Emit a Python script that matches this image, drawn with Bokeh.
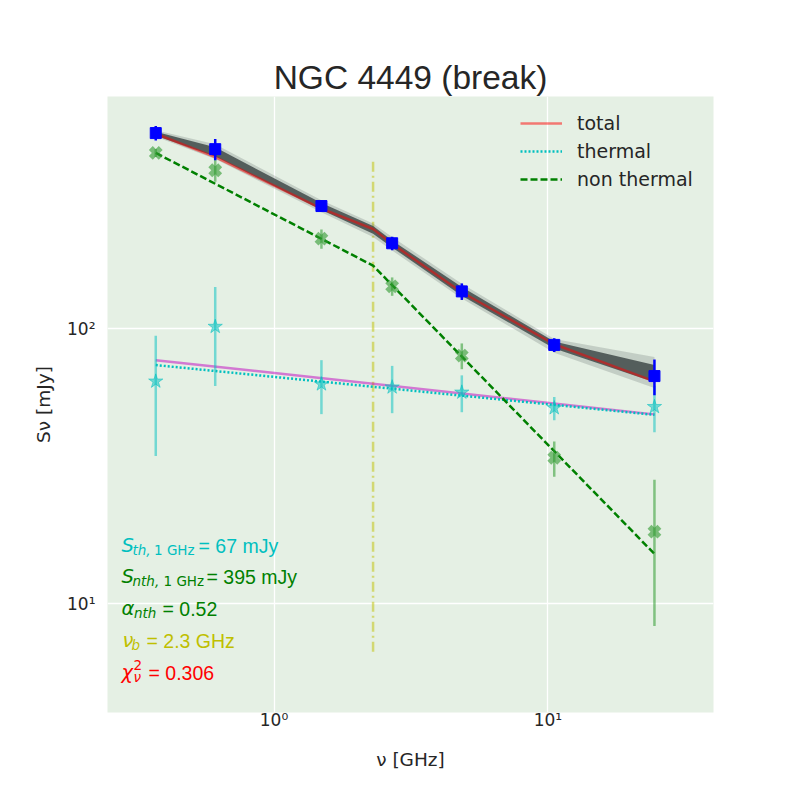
from bokeh.plotting import figure
from bokeh.models import Range1d, FixedTicker, Label, Legend, LegendItem, CustomJSTickFormatter
from bokeh.embed import file_html
from bokeh.resources import INLINE

# ---------------- data ----------------
freq = [0.37, 0.61, 1.49, 2.7, 4.85, 10.55, 24.5]          # GHz
s_total = [516, 451, 280, 205, 137, 87.5, 67.4]            # mJy
e_total = [31, 40, 13, 11.5, 9.5, 5, 10]
s_th = [64.5, 102, 63, 61.4, 58.8, 51.6, 52.1]
e_th = [30, 40, 14, 12, 9, 5, 10]
s_nth = [437, 378, 213, 143, 80, 34, 18.3]
e_nth = [15, 35, 17, 11, 8.6, 5, 10]

model_freq = [0.37, 0.61, 1.49, 2.3, 2.7, 4.85, 10.55, 24.5]
model_total = [513, 422, 274, 231, 204, 136, 88, 64.5]
band_hi = [528, 470, 294, 242, 216, 146, 92, 79]
band_lo = [500, 415, 266, 216, 193, 129, 82, 61]
band_in_hi = [522, 458, 287, 237, 210, 142, 90, 74]
band_in_lo = [505, 424, 271, 222, 198, 132, 85, 64]

th_freq = [0.37, 24.5]
th_model = [73.9, 48.7]
th_model_alt = [77, 48.9]
nth_freq = [0.37, 2.3, 24.5]
nth_model = [437, 170, 15.2]

nu_break = 2.3
break_span = [6.7, 415]

title = "NGC 4449 (break)"
x_label = "ν [GHz]"
y_label = "Sν [mJy]"
legend_labels = ["total", "thermal", "non thermal"]

# ---------------- figure ----------------
FL, FB = 107, 712  # frame left / bottom on page (for screen-unit labels)

p = figure(width=792, height=792, x_axis_type="log", y_axis_type="log",
           x_range=Range1d(0.2466, 40.25), y_range=Range1d(4.025, 701),
           output_backend="svg", toolbar_location=None,
           min_border_left=107, min_border_right=79, min_border_top=96, min_border_bottom=80,
           background_fill_color="#e5f0e4", border_fill_color="white", outline_line_color=None)

p.title.text = title
p.title.align = "center"
p.title.text_font = "Liberation Sans"
p.title.text_font_size = "33.5px"
p.title.text_font_style = "normal"
p.title.text_color = "#262626"
p.title.standoff = 2

sup = CustomJSTickFormatter(code="""
const e = Math.round(Math.log10(tick));
const s = {'-1':'⁻¹','0':'⁰','1':'¹','2':'²','3':'³'};
return '10' + s[String(e)];
""")
p.xaxis.ticker = FixedTicker(ticks=[1, 10])
p.yaxis.ticker = FixedTicker(ticks=[10, 100])
for ax in (p.xaxis, p.yaxis):
    ax.formatter = sup
    ax.axis_line_color = None
    ax.major_tick_line_color = None
    ax.minor_tick_line_color = None
    ax.major_label_text_font = "DejaVu Sans"
    ax.major_label_text_font_size = "17px"
    ax.major_label_text_color = "#262626"
    ax.axis_label_text_font = "DejaVu Sans"
    ax.axis_label_text_font_size = "18.5px"
    ax.axis_label_text_font_style = "normal"
    ax.axis_label_text_color = "#262626"
p.xaxis.major_label_standoff = -9
p.xaxis.axis_label_standoff = 16
p.yaxis.major_label_standoff = 6
p.yaxis.axis_label_standoff = 10
p.xaxis.axis_label = x_label
p.yaxis.axis_label = y_label
p.xgrid.grid_line_color = "white"
p.ygrid.grid_line_color = "white"
p.xgrid.grid_line_width = 1.3
p.ygrid.grid_line_width = 1.3

# break frequency
p.segment(x0=[nu_break], x1=[nu_break], y0=[break_span[0]], y1=[break_span[1]],
          line_color="#bfbf00", line_alpha=0.5, line_width=2.5, line_dash="10 4 2 4")

# MCMC band
p.varea(x=model_freq, y1=band_lo, y2=band_hi, fill_color="#4f5856", fill_alpha=0.22)
p.varea(x=model_freq, y1=band_in_lo, y2=band_in_hi, fill_color="#485250", fill_alpha=0.9)

# models
r_tot = p.line(model_freq, model_total, line_color="red", line_alpha=0.5, line_width=2.5)
p.line(th_freq, th_model_alt, line_color="#bf00bf", line_alpha=0.5, line_width=2.5)
r_th = p.line(th_freq, th_model, line_color="#00bfbf", line_width=2.5, line_dash="2 2")
r_nth = p.line(nth_freq, nth_model, line_color="#008000", line_width=2.5, line_dash="7 3")

# error bars
def errbar(x, y, e, color, alpha):
    lo = [v - d for v, d in zip(y, e)]
    hi = [v + d for v, d in zip(y, e)]
    p.segment(x0=x, x1=x, y0=lo, y1=hi, line_color=color, line_alpha=alpha, line_width=2.5)

errbar(freq, s_th, e_th, "#00bfbf", 0.5)
errbar(freq, s_nth, e_nth, "#2e9a2e", 0.55)
errbar(freq, s_total, e_total, "blue", 1.0)

p.scatter(freq, s_th, marker="star", size=15, fill_color="#00bfbf", line_color="#00bfbf",
          fill_alpha=0.5, line_alpha=0.5)
p.scatter(freq, s_nth, marker="x", size=14, line_color="#2e9a2e", line_alpha=0.6, line_width=5.5)
p.scatter(freq, s_total, marker="square", size=11, fill_color="blue", line_color="blue")

legend = Legend(items=[LegendItem(label=legend_labels[0], renderers=[r_tot]),
                       LegendItem(label=legend_labels[1], renderers=[r_th]),
                       LegendItem(label=legend_labels[2], renderers=[r_nth])],
                location=(413, 522), padding=0, margin=0, spacing=6,
                glyph_width=42, glyph_height=20, label_height=20, label_standoff=15,
                label_text_font="DejaVu Sans", label_text_font_size="19px",
                label_text_color="#262626", background_fill_alpha=0, border_line_alpha=0)
p.add_layout(legend)

# annotations (page coords -> frame screen coords); DY corrects the baseline offset
DY = 7
def lab(text, px, py, color, font="DejaVu Sans", size="19.5px", style="italic"):
    p.add_layout(Label(x=px - FL, y=FB - py + DY, x_units="screen", y_units="screen", text=text,
                       text_font=font, text_font_size=size, text_font_style=style,
                       text_color=color, text_baseline="alphabetic", text_align="left"))

C_TH, C_NTH, C_B, C_CHI = "#00bfbf", "#008000", "#bfbf00", "red"
LIB = "Liberation Sans"
# line 1
lab("S", 121, 552, C_TH)
lab("th,", 132, 556, C_TH, size="13.5px")
lab("1 GHz", 153.5, 556, C_TH, size="13.5px", style="normal")
lab("= 67 mJy", 198, 552, C_TH, font=LIB, style="normal")
# line 2
lab("S", 121, 583, C_NTH)
lab("nth,", 132, 587, C_NTH, size="13.5px")
lab("1 GHz", 163, 587, C_NTH, size="13.5px", style="normal")
lab("= 395 mJy", 206, 583, C_NTH, font=LIB, style="normal")
# line 3
lab("α", 121, 615, C_NTH)
lab("nth", 133.5, 619, C_NTH, size="13.5px")
lab("= 0.52", 162, 615, C_NTH, font=LIB, style="normal")
# line 4
lab("ν", 122, 647, C_B)
lab("b", 131, 651, C_B, size="13.5px")
lab("= 2.3 GHz", 146, 647, C_B, font=LIB, style="normal")
# line 5
lab("χ", 121, 679, C_CHI)
lab("2", 133, 671, C_CHI, size="13.5px", style="normal")
lab("ν", 133, 683, C_CHI, size="13.5px")
lab("= 0.306", 148, 679, C_CHI, font=LIB, style="normal")

open("out.html", "w").write(file_html(p, INLINE))
